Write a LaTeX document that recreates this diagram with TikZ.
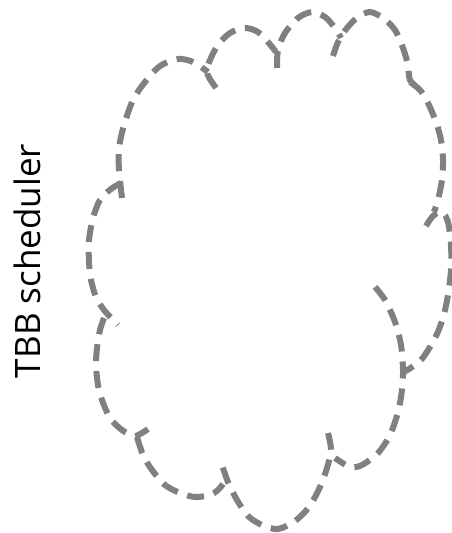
\documentclass[tikz,border=0pt]{standalone}
\usepackage{fontspec}
\setmainfont{Open Sans}
\begin{document}
\begin{tikzpicture}[x=1pt,y=-1pt,
  puff/.style={draw=cloudgray, line width=6pt, dash pattern=on 17pt off 10pt},
  label/.style={font=\fontsize{35}{40}\selectfont, text=black, rotate=90, anchor=base, inner sep=0pt}]
\definecolor{cloudgray}{HTML}{808080}
\useasboundingbox (0,0) rectangle (452,533);
\node[label] (title) at (40,261) {TBB scheduler};
% puffs
\draw[puff] plot[smooth] coordinates {(122,198) (119,170) (119,148) (124,125) (133,100) (145,82) (160,66) (178,59) (193,62) (208,72)};
\draw[puff] plot[smooth] coordinates {(216,88) (207,73) (210,60) (218,45) (230,33) (245,28) (258,32) (268,42) (276,52)};
\draw[puff] plot[smooth] coordinates {(277,68) (278,50) (285,33) (298,18) (312,12) (325,17) (335,28) (341,38)};
\draw[puff] plot[smooth] coordinates {(333,56) (338,42) (347,28) (358,17) (370,12) (383,18) (395,30) (403,48) (408,65) (410,80) (420,90)};
\draw[puff] plot[smooth] coordinates {(410,82) (420,90) (428,103) (436,122) (441,140) (443,160) (442,180) (438,200) (434,212)};
\draw[puff] plot[smooth] coordinates {(426,226) (433,216) (442,212) (448,222) (451,245) (451,270) (448,295) (443,318) (435,338) (421,360) (404,372)};
\draw[puff] plot[smooth] coordinates {(375,287) (385,300) (395,322) (401,345) (403,370) (402,390) (398,412) (390,435) (378,453) (362,465) (350,467) (335,458)};
\draw[puff] plot[smooth] coordinates {(328,433) (331,450) (327,468) (320,487) (309,507) (295,521) (278,529) (262,525) (248,516) (237,500) (228,482) (221,462)};
\draw[puff] plot[smooth] coordinates {(137,437) (143,455) (152,470) (165,485) (180,493) (195,497) (210,495) (218,490) (223,484)};
\draw[puff] plot[smooth] coordinates {(104,318) (100,330) (97,348) (96,365) (98,385) (102,400) (110,418) (122,430) (135,436) (148,429)};
\draw[puff] plot[smooth] coordinates {(121,183) (111,189) (100,200) (93,218) (89,240) (89,262) (91,280) (96,297) (104,310) (118,325)};
\end{tikzpicture}
\end{document}
